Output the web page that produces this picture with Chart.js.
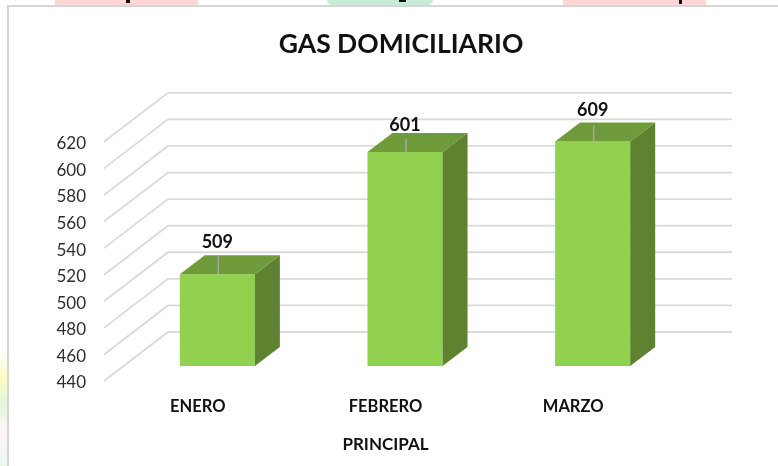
<!DOCTYPE html>
<html>
<head>
<meta charset="utf-8">
<script src="https://cdn.jsdelivr.net/npm/chart.js@4"></script>
<style>
html,body{margin:0;padding:0;background:#fff;overflow:hidden}
#page{position:relative;width:778px;height:466px;overflow:hidden;background:#fff}
.strip{position:absolute;top:0;height:5px}
#frame{position:absolute;left:7px;top:5px;width:771px;height:461px;box-sizing:border-box;border-left:2px solid #d6d6d6;border-top:2px solid #d6d6d6;background:#fff}
#leftfade{position:absolute;left:0;top:350px;width:7px;height:116px;background:linear-gradient(180deg,#fff 0%,#fbfbc4 25%,#e2f6d8 45%,#fdf6f8 70%,#eaf8ee 100%)}
#wrap{position:absolute;left:24px;top:0;width:754px;height:466px;filter:blur(0.3px)}
</style>
</head>
<body>
<div id="page">
  <div class="strip" style="left:55px;width:143px;background:#ffd6d6"></div>
  <div class="strip" style="left:327px;width:106px;background:#c6ebd6;border-radius:0 0 30px 30px"></div>
  <div class="strip" style="left:563px;width:143px;background:#ffd6d6"></div>
  <div class="strip" style="left:126px;width:4px;height:3px;background:#111"></div>
  <div class="strip" style="left:399px;width:7px;height:2px;background:#111"></div>
  <div class="strip" style="left:679px;width:3px;height:4px;background:#111"></div>
  <div id="leftfade"></div>
  <div id="frame"></div>
  <div id="wrap"><canvas id="c" width="754" height="466"></canvas></div>
</div>
<script>
const titleText = "GAS DOMICILIARIO";
const axisTitle = "PRINCIPAL";
const categories = ["ENERO", "FEBRERO", "MARZO"];
const values = [509, 601, 609];
const yMin = 440, yMax = 620, yStep = 20;

const FRONT = "#92D050", SIDE = "#5E8230", TOP = "#6F9B3B", GRID = "#DADADA", LEADER = "#A6A6A6";
const wall = {x: 64, y: 49}, gridEnd = 708;
const floorShift = {x: 19.5, y: 15};
const barDepth = {x: 25, y: 19};
const labelGap = [32, 27, 31], leaderTop = [18, 13, 16];

const depth3d = {
  id: "depth3d",
  beforeDatasetsDraw(chart) {
    const {ctx, chartArea: a, scales: {y}} = chart;
    ctx.save();
    ctx.strokeStyle = GRID; ctx.lineWidth = 1.8;
    y.ticks.forEach(t => {
      const p = y.getPixelForValue(t.value);
      ctx.beginPath();
      ctx.moveTo(a.left, p);
      ctx.lineTo(a.left + wall.x, p - wall.y);
      ctx.lineTo(gridEnd, p - wall.y);
      ctx.stroke();
    });
    ctx.restore();
    ctx.save();
    ctx.translate(floorShift.x, -floorShift.y);
  },
  afterDatasetsDraw(chart) {
    const {ctx} = chart;
    const meta = chart.getDatasetMeta(0);
    meta.data.forEach((b, i) => {
      const l = b.x - b.width / 2, r = b.x + b.width / 2, t = b.y, bot = b.base;
      ctx.fillStyle = SIDE;
      ctx.beginPath();
      ctx.moveTo(r, t); ctx.lineTo(r + barDepth.x, t - barDepth.y);
      ctx.lineTo(r + barDepth.x, bot - barDepth.y); ctx.lineTo(r, bot);
      ctx.closePath(); ctx.fill();
      ctx.fillStyle = TOP;
      ctx.beginPath();
      ctx.moveTo(l, t); ctx.lineTo(l + barDepth.x, t - barDepth.y);
      ctx.lineTo(r + barDepth.x, t - barDepth.y); ctx.lineTo(r, t);
      ctx.closePath(); ctx.fill();
      ctx.strokeStyle = LEADER; ctx.lineWidth = 1.5;
      ctx.beginPath();
      ctx.moveTo(b.x + 1, t); ctx.lineTo(b.x + 1, t - leaderTop[i]);
      ctx.stroke();
      ctx.fillStyle = "#111";
      ctx.font = "bold 18px Lato";
      ctx.textAlign = "center"; ctx.textBaseline = "middle";
      ctx.fillText(String(values[i]), b.x, t - labelGap[i]);
    });
    ctx.restore();
  }
};

new Chart(document.getElementById("c"), {
  type: "bar",
  data: {
    labels: categories,
    datasets: [{data: values, base: yMin, backgroundColor: FRONT, borderWidth: 0, barPercentage: 0.4, categoryPercentage: 1}]
  },
  plugins: [depth3d],
  options: {
    responsive: false,
    animation: false,
    layout: {padding: 0},
    plugins: {
      legend: {display: false},
      tooltip: {enabled: false},
      title: {
        display: true, text: titleText, color: "#111",
        font: {family: "Lato", size: 26.5, weight: "bold", lineHeight: 1.2},
        padding: {top: 29, bottom: 81}
      }
    },
    scales: {
      x: {
        grid: {display: false, drawTicks: false},
        border: {display: false},
        ticks: {color: "#111", font: {family: "Lato", size: 16.5, weight: "bold"}, padding: 16, maxRotation: 0},
        title: {display: true, text: axisTitle, color: "#111", font: {family: "Lato", size: 17, weight: "bold"}, padding: {top: 0, bottom: 11}},
        afterFit(s) { s.height = 85; }
      },
      y: {
        min: yMin, max: yMax,
        grid: {display: false, drawTicks: false},
        border: {display: false},
        ticks: {stepSize: yStep, color: "#2E2E2E", font: {family: "Lato", size: 17}, padding: 18, labelOffset: 2},
        afterFit(s) { s.width = 80; }
      },
      spacer: {
        position: "right",
        grid: {display: false, drawTicks: false},
        border: {display: false},
        ticks: {display: false},
        afterFit(s) { s.width = 111; }
      }
    }
  }
});
</script>
</body>
</html>
